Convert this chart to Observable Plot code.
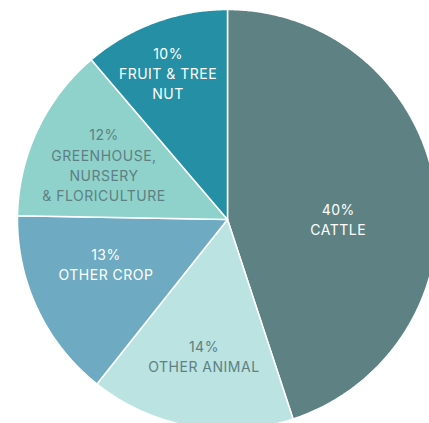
<!DOCTYPE html>
<html>
<head>
<meta charset="utf-8">
<script src="https://cdn.jsdelivr.net/npm/d3@7"></script>
<script src="https://cdn.jsdelivr.net/npm/@observablehq/plot@0.6"></script>
<style>
  html, body { margin: 0; padding: 0; background: #fff; overflow: hidden; }
  #chart svg { display: block; }
</style>
</head>
<body>
<div id="chart"></div>
<script>
// Data (clockwise from 12 o'clock)
const categories = ["CATTLE", "OTHER ANIMAL", "OTHER CROP", "GREENHOUSE, NURSERY & FLORICULTURE", "FRUIT & TREE NUT"];
const shares = [40, 14, 13, 12, 10];
const labelLines = [
  ["CATTLE"],
  ["OTHER ANIMAL"],
  ["OTHER CROP"],
  ["GREENHOUSE,", "NURSERY", "& FLORICULTURE"],
  ["FRUIT & TREE", "NUT"]
];
const sliceColors = ["#5e8283", "#bae3e2", "#6eaac1", "#8fd2cc", "#2590a5"];
const textColors = ["#ffffff", "#5e8081", "#ffffff", "#5e8081", "#ffffff"];

// layout
const W = 429, H = 423;
const cx = 227, cy = 219, R = 210; // pixel geometry of the pie
const labelR = 0.64;
// small hand nudges (px) of each label away from the mid-angle anchor
const labelNudge = [[-22, 20], [0, 4], [0, -13], [-2, 2], [-13, -21]];

const pie = d3.pie().sort(null).value(d => d.share)(categories.map((c, i) => ({cat: c, share: shares[i], i})));

// polygon vertices in unit data space (y up)
const poly = [];
for (const s of pie) {
  const cat = s.data.cat;
  poly.push({cat, x: 0, y: 0});
  const n = Math.max(2, Math.ceil((s.endAngle - s.startAngle) / (Math.PI / 360)));
  for (let k = 0; k <= n; k++) {
    const a = s.startAngle + (s.endAngle - s.startAngle) * k / n;
    poly.push({cat, x: Math.sin(a), y: Math.cos(a)});
  }
}

const labelData = pie.map(s => {
  const a = (s.startAngle + s.endAngle) / 2;
  const [nx, ny] = labelNudge[s.data.i];
  return {
    cat: s.data.cat,
    x: Math.sin(a) * labelR + nx / R,
    y: Math.cos(a) * labelR - ny / R,
    text: [s.data.share + "%", ...labelLines[s.data.i]].join("\n"),
    color: textColors[s.data.i]
  };
});

const chart = Plot.plot({
  width: W,
  height: H,
  margin: 0,
  x: {domain: [-cx / R, (W - cx) / R], axis: null},
  y: {domain: [-(H - cy) / R, cy / R], axis: null},
  color: {domain: categories, range: sliceColors},
  style: {fontFamily: "Inter, Lato, sans-serif"},
  marks: [
    Plot.line(poly, {x: "x", y: "y", z: "cat", fill: "cat", stroke: "#ffffff", strokeWidth: 1.5, curve: "linear-closed", clip: "frame"}),
    Plot.text(labelData, {x: "x", y: "y", text: "text", fill: d => d.color, fontSize: 14, lineHeight: 1.43, textAnchor: "middle", style: "letter-spacing: 0.5px"})
  ]
});
chart.querySelectorAll("text").forEach(t => t.style.letterSpacing = "0.5px");
document.getElementById("chart").appendChild(chart);
</script>
</body>
</html>
